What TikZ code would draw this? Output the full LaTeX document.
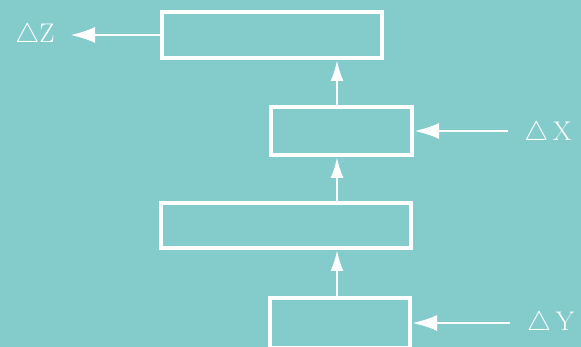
\RequirePackage{fix-cm}
\documentclass[tikz,border=0pt]{standalone}
\usepackage{amsmath,amssymb}
\usepackage{tikz}
\usetikzlibrary{arrows.meta,positioning,calc}
\usepackage{xcolor}
\definecolor{panelteal}{RGB}{132,203,204}

\begin{document}
\begin{tikzpicture}[
  x=1pt, y=-1pt,
  stage/.style={
    rectangle, draw=white, line width=4pt, fill=none,
    inner sep=0pt
  },
  lbl/.style={
    text=white, inner sep=0pt, font=\fontsize{27}{30}\selectfont
  },
  arr/.style={-{Latex[length=25pt, width=16pt]}, line width=2.8pt, color=white},
  uparr/.style={-{Latex[length=21pt, width=13pt]}, line width=2.6pt, color=white},
]
  % Background panel
  \fill[panelteal] (0,0) rectangle (581,347);
  \useasboundingbox (0,0) rectangle (581,347);

  % Stages, top to bottom
  \node[stage, minimum width=220pt, minimum height=46pt] (top) at (272,35) {};
  \node[stage, minimum width=141pt, minimum height=48pt] (upper) at (341.5,131) {};
  \node[stage, minimum width=250pt, minimum height=45pt] (lower) at (286,225.5) {};
  \node[stage, minimum width=140pt, minimum height=50pt] (base) at (340,323) {};

  % Labels
  \node[lbl] (dz) at (35,36) {$\triangle\mathrm{Z}$};
  \node[lbl] (dx) at (548,134) {$\triangle\,\mathrm{X}$};
  \node[lbl] (dy) at (551,324) {$\triangle\,\mathrm{Y}$};

  % Free ends and spine
  \coordinate (zout) at (70,35);
  \coordinate (xin) at (508,131);
  \coordinate (yin) at (510,323);
  \coordinate (spine) at (337,0);

  % Arrows
  \draw[uparr] (base.north -| spine) -- (lower.south -| spine);
  \draw[uparr] (lower.north -| spine) -- (upper.south -| spine);
  \draw[uparr] (upper.north -| spine) -- (top.south -| spine);
  \draw[arr] (top.west) -- (zout);
  \draw[arr] (xin) -- (upper.east);
  \draw[arr] (yin) -- (base.east);
\end{tikzpicture}
\end{document}
